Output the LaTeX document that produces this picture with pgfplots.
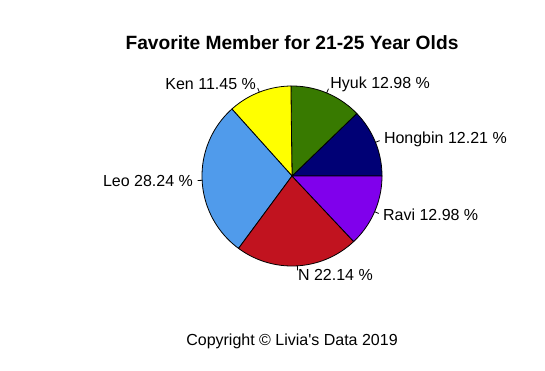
\documentclass[border=0pt]{standalone}
\usepackage{pgfplots}
\pgfplotsset{compat=1.18}
\usepackage{pgfplotstable}
\usepackage{fontspec}
\setmainfont{Liberation Sans}[Ligatures=TeXOff]
\definecolor{cHongbin}{RGB}{0,0,117}
\definecolor{cHyuk}{RGB}{56,122,0}
\definecolor{cKen}{RGB}{255,255,0}
\definecolor{cLeo}{RGB}{80,155,235}
\definecolor{cN}{RGB}{193,19,31}
\definecolor{cRavi}{RGB}{128,0,236}
\pgfplotstableread{
name value color
Hongbin 12.21 cHongbin
Hyuk 12.98 cHyuk
Ken 11.45 cKen
Leo 28.24 cLeo
N 22.14 cN
Ravi 12.98 cRavi
}\piedata
\def\cx{292}
\def\cy{176}
\def\rr{90}
\begin{document}
\begin{tikzpicture}
\begin{axis}[
  width=545bp, height=371bp, scale only axis,
  xmin=0, xmax=545, ymin=0, ymax=371, y dir=reverse,
  hide axis, clip=false,
]
\path (axis cs:0,0) -- (axis cs:545,371);
\xdef\cum{0}
\pgfplotsinvokeforeach{0,...,5}{
  \pgfplotstablegetelem{#1}{value}\of\piedata \let\val\pgfplotsretval
  \pgfplotstablegetelem{#1}{name}\of\piedata \let\nm\pgfplotsretval
  \pgfplotstablegetelem{#1}{color}\of\piedata \let\col\pgfplotsretval
  \pgfmathsetmacro\aone{\cum*3.6}
  \pgfmathsetmacro\atwo{(\cum+\val)*3.6}
  \pgfmathsetmacro\amid{(\aone+\atwo)/2}
  \pgfmathsetmacro\xa{\cx+\rr*cos(\amid)}
  \pgfmathsetmacro\ya{\cy-\rr*sin(\amid)}
  \pgfmathsetmacro\xb{\cx+1.05*\rr*cos(\amid)}
  \pgfmathsetmacro\yb{\cy-1.05*\rr*sin(\amid)}
  \pgfmathsetmacro\xc{\cx+1.1*\rr*cos(\amid)}
  \pgfmathsetmacro\yc{\cy-1.1*\rr*sin(\amid)}
  \pgfmathtruncatemacro\side{cos(\amid)>0 ? 1 : 0}
  \ifnum\side=1 \def\anc{west}\else\def\anc{east}\fi
  \edef\cmd{%
    \noexpand\addplot[draw=black, fill=\col, line width=0.8bp, line join=round, domain=\aone:\atwo, samples=80]
      ({\cx+\rr*cos(x)},{\cy-\rr*sin(x)}) -- (axis cs:\cx,\cy) -- cycle;
    \noexpand\draw[line width=0.8bp] (axis cs:\xa,\ya) -- (axis cs:\xb,\yb);
    \noexpand\node[anchor=\anc, inner sep=0pt, font=\noexpand\fontsize{16bp}{19bp}\noexpand\selectfont] at (axis cs:\xc,\yc) {\nm\space\val\space\noexpand\%};
  }%
  \cmd
  \pgfmathsetmacro\newcum{\cum+\val}
  \xdef\cum{\newcum}
}
\node[font=\fontsize{19.2bp}{23bp}\selectfont\bfseries] at (axis cs:292,43) {Favorite Member for 21-25 Year Olds};
\node[font=\fontsize{16bp}{19bp}\selectfont] at (axis cs:292,341) {Copyright © Livia's Data 2019};
\end{axis}
\end{tikzpicture}
\end{document}
